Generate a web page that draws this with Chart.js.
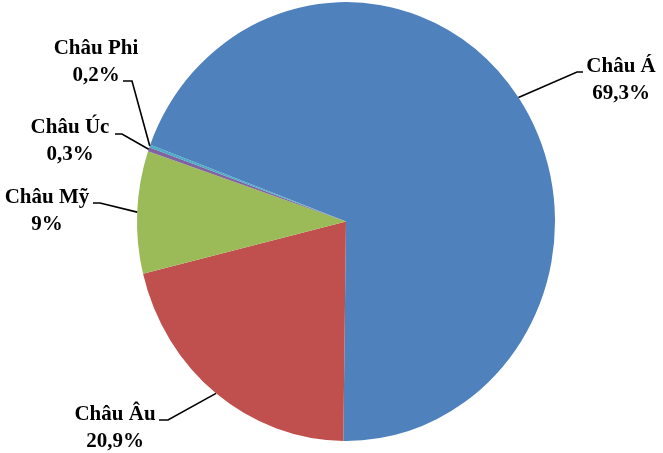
<!DOCTYPE html>
<html>
<head>
<meta charset="utf-8">
<script src="https://cdn.jsdelivr.net/npm/chart.js@4/dist/chart.umd.min.js"></script>
<style>
    body { margin: 0; background: #fff; }
    #wrap { width: 663px; height: 453px; }
</style>
</head>
<body>
<div id="wrap"><canvas id="pieChart" width="663" height="453"></canvas></div>
<script>
// Data
const regions = ['Châu Á', 'Châu Âu', 'Châu Mỹ', 'Châu Úc', 'Châu Phi'];
const shares = [69.3, 20.9, 9, 0.3, 0.2];
const shareLabels = ['69,3%', '20,9%', '9%', '0,3%', '0,2%'];
const sliceColors = ['#4F81BD', '#C0504D', '#9BBB59', '#8064A2', '#4BACC6'];

// Label layout: text centre x, first baseline y, elbow of leader line, end of horizontal tick
const labelLayout = [
    { x: 621, y: 72, elbow: [577, 72], tick: [583, 72] },
    { x: 115, y: 420, elbow: [168, 420], tick: [159, 420] },
    { x: 47, y: 203, elbow: [100, 203], tick: [93, 203] },
    { x: 70, y: 133, elbow: [122, 134], tick: [115, 134] },
    { x: 96, y: 54, elbow: [132, 81], tick: [123, 81] }
];

const yStretch = 1.05; // pie in the picture is slightly taller than wide

// Stretch the pie vertically around its centre
const stretchPlugin = {
    id: 'stretch',
    beforeDatasetsDraw(chart) {
        const arc = chart.getDatasetMeta(0).data[0];
        const ctx = chart.ctx;
        ctx.save();
        ctx.translate(arc.x, arc.y);
        ctx.scale(1, yStretch);
        ctx.translate(-arc.x, -arc.y);
    },
    afterDatasetsDraw(chart) {
        chart.ctx.restore();
    }
};

// Labels with leader lines
const labelPlugin = {
    id: 'pieLabels',
    afterDraw(chart) {
        const ctx = chart.ctx;
        const meta = chart.getDatasetMeta(0);
        ctx.save();
        meta.data.forEach((arc, i) => {
            const mid = (arc.startAngle + arc.endAngle) / 2;
            const px = arc.x + arc.outerRadius * Math.cos(mid);
            const py = arc.y + arc.outerRadius * Math.sin(mid) * yStretch;
            const lay = labelLayout[i];

            ctx.strokeStyle = '#000';
            ctx.lineWidth = 1.6;
            ctx.beginPath();
            ctx.moveTo(px, py);
            ctx.lineTo(lay.elbow[0], lay.elbow[1]);
            ctx.lineTo(lay.tick[0], lay.tick[1]);
            ctx.stroke();

            ctx.fillStyle = '#000';
            ctx.font = 'bold 21px "Liberation Serif", "Times New Roman", serif';
            ctx.textAlign = 'center';
            ctx.textBaseline = 'alphabetic';
            ctx.fillText(regions[i], lay.x, lay.y);
            ctx.fillText(shareLabels[i], lay.x, lay.y + 27);
        });
        ctx.restore();
    }
};

new Chart(document.getElementById('pieChart'), {
    type: 'pie',
    data: {
        labels: regions,
        datasets: [{
            data: shares,
            backgroundColor: sliceColors,
            borderWidth: 0
        }]
    },
    options: {
        responsive: false,
        animation: false,
        rotation: -69.5,
        layout: {
            padding: { left: 137, right: 108, top: 12.5, bottom: 22.5 }
        },
        plugins: {
            legend: { display: false },
            tooltip: { enabled: false }
        }
    },
    plugins: [stretchPlugin, labelPlugin]
});
</script>
</body>
</html>
